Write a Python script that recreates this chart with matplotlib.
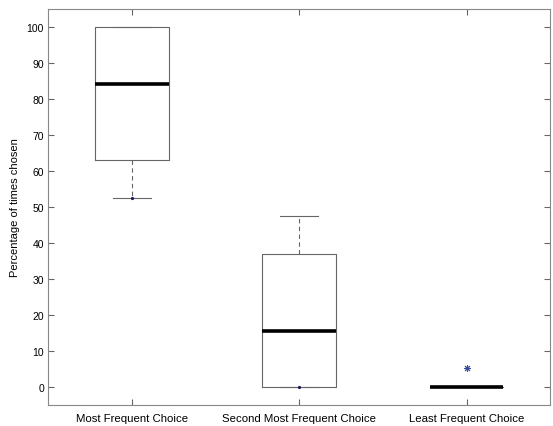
import matplotlib
matplotlib.use("Agg")
import matplotlib.pyplot as plt

plt.rcParams['font.family'] = ['Liberation Sans', 'DejaVu Sans']

# data
categories = ['Most Frequent Choice', 'Second Most Frequent Choice', 'Least Frequent Choice']
q1 = [63.0, 0.0, 0.0]
medians = [84.2, 15.7, 0.0]
q3 = [100.0, 37.0, 0.0]
whislo = [52.6, 0.0, 0.0]
whishi = [100.0, 47.4, 0.0]
fliers = [[], [], [5.2]]
positions = [1, 2, 3]

stats = []
for i in range(len(categories)):
    stats.append(dict(med=medians[i], q1=q1[i], q3=q3[i],
                      whislo=whislo[i], whishi=whishi[i], fliers=fliers[i]))

fig, ax = plt.subplots(figsize=(5.53, 4.27), dpi=100)
fig.subplots_adjust(left=0.087, right=0.995, top=0.977, bottom=0.049)

grey = '#666666'
ax.bxp(stats, positions=positions, widths=0.44, showfliers=True,
       boxprops=dict(color=grey, linewidth=0.8),
       whiskerprops=dict(color=grey, linewidth=0.8, linestyle=(0, (4, 3))),
       capprops=dict(color=grey, linewidth=0.8),
       medianprops=dict(color='black', linewidth=2.6),
       flierprops=dict(marker=(8, 2, 0), markersize=5, markerfacecolor='#1f2f8f',
                       markeredgecolor='#3a4aa0', markeredgewidth=0.7, linestyle='none'),
       capwidths=0.23)

# small dots at the lower whisker ends
ax.plot(positions[:2], whislo[:2], linestyle='none', marker='o', markersize=1.3,
        color='#1a1a5a')

ax.set_xlim(0.5, 3.5)
ax.set_ylim(-5, 105)
ax.set_yticks(range(0, 101, 10))
ax.set_xticks(positions)
ax.set_xticklabels(categories, fontsize=8.2)
ax.tick_params(axis='y', labelsize=7.5, pad=3)
ax.tick_params(axis='x', pad=6)
ax.tick_params(direction='in', top=True, right=True, length=4, color=grey, width=0.8)
ax.set_ylabel('Percentage of times chosen', fontsize=8)
ax.yaxis.set_label_coords(-0.056, 0.5)
for s in ax.spines.values():
    s.set_color('#888888')
    s.set_linewidth(0.8)

plt.savefig('out.png', dpi=100, facecolor='white')
